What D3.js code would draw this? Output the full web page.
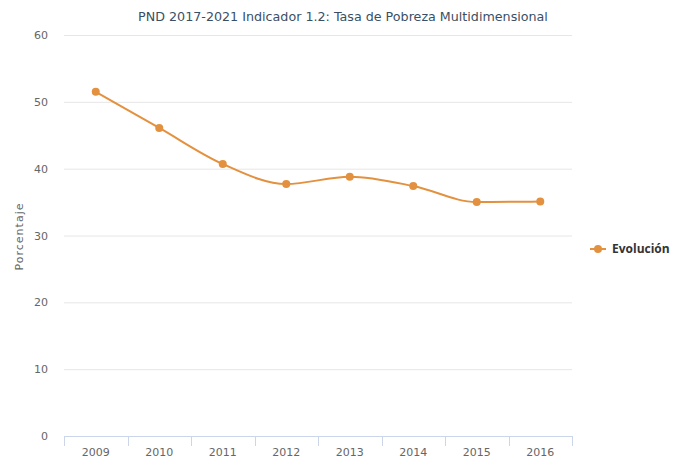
<!DOCTYPE html>
<html>
<head>
<meta charset="utf-8">
<script src="https://cdn.jsdelivr.net/npm/d3@7"></script>
<style>
  body { margin: 0; background: #fff; }
  text { font-family: "DejaVu Sans", sans-serif; }
</style>
</head>
<body>
<div id="chart"></div>
<script>
// data
var years = ["2009", "2010", "2011", "2012", "2013", "2014", "2015", "2016"];
var evolucion = [51.5, 46.1, 40.7, 37.7, 38.8, 37.4, 35.0, 35.1];
var yTicks = [0, 10, 20, 30, 40, 50, 60];

var svgWidth = 673;
var svgHeight = 459;
var margin = { top: 35, bottom: 23, right: 101, left: 64 };

var width = svgWidth - margin.left - margin.right;
var height = svgHeight - margin.top - margin.bottom;

var svg = d3.select("#chart")
  .append("svg")
  .attr("width", svgWidth)
  .attr("height", svgHeight);

var chartGroup = svg.append("g")
  .attr("transform", `translate(${margin.left}, ${margin.top})`);

// scales
var xScale = d3.scaleBand()
  .domain(years)
  .range([0, width]);
var yScale = d3.scaleLinear()
  .domain([0, 60])
  .range([height, 0]);

// gridlines
chartGroup.append("g")
  .selectAll("line")
  .data(yTicks.filter(d => d > 0))
  .enter()
  .append("line")
  .attr("x1", 0)
  .attr("x2", width)
  .attr("y1", d => yScale(d) + 0.5)
  .attr("y2", d => yScale(d) + 0.5)
  .attr("stroke", "#e6e6e6")
  .attr("stroke-width", 1);

// y axis labels
var yAxis = d3.axisLeft(yScale).tickValues(yTicks).tickSize(0).tickPadding(16);
var yG = chartGroup.append("g").call(yAxis);
yG.select(".domain").remove();
yG.selectAll("text")
  .attr("fill", "#666")
  .style("font-family", "DejaVu Sans")
  .style("font-size", "11px");

// x axis
var xAxis = d3.axisBottom(xScale).tickSize(0).tickPadding(12);
var xG = chartGroup.append("g")
  .attr("transform", `translate(0, ${height})`)
  .call(xAxis);
xG.select(".domain").attr("stroke", "#ccd6eb").attr("d", `M0,0.5H${width}`);
xG.selectAll("text")
  .attr("fill", "#666")
  .style("font-family", "DejaVu Sans")
  .style("font-size", "11px");

// tick marks between categories
var bounds = years.map(d => xScale(d)).concat([width]);
xG.selectAll(".bound")
  .data(bounds)
  .enter()
  .append("line")
  .attr("class", "bound")
  .attr("x1", d => Math.round(d) + 0.5)
  .attr("x2", d => Math.round(d) + 0.5)
  .attr("y1", 0)
  .attr("y2", 10)
  .attr("stroke", "#ccd6eb");

// y axis title
chartGroup.append("text")
  .attr("transform", "rotate(-90)")
  .attr("x", -height / 2 - 1)
  .attr("y", -41)
  .attr("text-anchor", "middle")
  .attr("fill", "#666")
  .style("font-size", "11px")
  .style("letter-spacing", "1px")
  .text("Porcentaje");

// title
svg.append("text")
  .attr("x", 343)
  .attr("y", 21)
  .attr("text-anchor", "middle")
  .attr("fill", "#3a4f66")
  .style("font-size", "12.7px")
  .text("PND 2017-2021 Indicador 1.2: Tasa de Pobreza Multidimensional");

// line
var color = "#e3913f";
var line = d3.line()
  .x((d, i) => xScale(years[i]) + xScale.bandwidth() / 2)
  .y(d => yScale(d))
  .curve(d3.curveMonotoneX);

chartGroup.append("path")
  .datum(evolucion)
  .attr("d", line)
  .attr("fill", "none")
  .attr("stroke", color)
  .attr("stroke-width", 2);

chartGroup.selectAll("circle")
  .data(evolucion)
  .enter()
  .append("circle")
  .attr("cx", (d, i) => xScale(years[i]) + xScale.bandwidth() / 2)
  .attr("cy", d => yScale(d))
  .attr("r", 4)
  .attr("fill", color);

// legend
var legend = svg.append("g")
  .attr("transform", `translate(590, 249)`);
legend.append("line")
  .attr("x1", 0).attr("x2", 16)
  .attr("stroke", color).attr("stroke-width", 2);
legend.append("circle")
  .attr("cx", 8).attr("r", 4).attr("fill", color);
legend.append("text")
  .attr("x", 22)
  .attr("y", 4)
  .attr("fill", "#333")
  .style("font-family", "Open Sans")
  .style("font-size", "12px")
  .style("font-weight", "bold")
  .text("Evolución");
</script>
</body>
</html>
